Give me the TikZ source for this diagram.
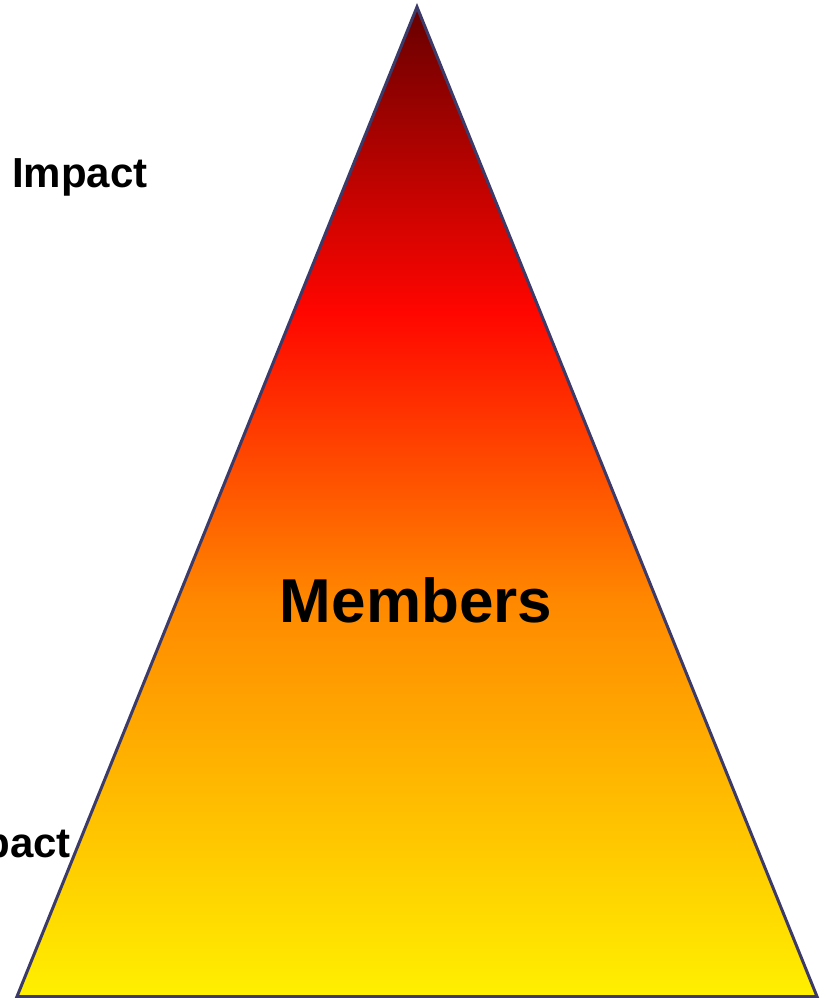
\documentclass[tikz,border=0pt]{standalone}
\usepackage{fontspec}
\setmainfont{Liberation Sans}
\definecolor{pyYellow}{RGB}{255,240,0}
\definecolor{pyOrange}{RGB}{255,136,0}
\definecolor{pyRed}{RGB}{255,5,0}
\definecolor{pyDark}{RGB}{102,0,0}
\definecolor{edgeblue}{RGB}{60,58,105}
\pgfdeclareverticalshading{pyr}{100bp}{
  color(0bp)=(pyYellow);
  color(25bp)=(pyYellow);
  color(45bp)=(pyOrange);
  color(59.7bp)=(pyRed);
  color(75bp)=(pyDark);
  color(100bp)=(pyDark)}
\tikzset{
  lbl/.style={font=\bfseries\fontsize{42}{48}\selectfont, inner sep=0pt},
  big/.style={font=\bfseries\fontsize{62}{70}\selectfont, inner sep=0pt},
  pyramid/.style={draw=edgeblue, line width=3pt, line join=miter, shading=pyr}
}
\begin{document}
\begin{tikzpicture}[x=1pt,y=-1pt]
\useasboundingbox (0,0) rectangle (825,998);
\clip (0,0) rectangle (825,998);
\coordinate (apex) at (417,7);
\coordinate (bl) at (17,996.5);
\coordinate (br) at (817,996.5);
\path[pyramid] (apex) -- (bl) -- (br) -- cycle;
\node[lbl, anchor=base west] (imp) at (12,187) {Impact};
\node[lbl, anchor=base east] (lowimp) at (71,857) {pact};
\node[big, anchor=base] (mem) at (416,622) {Members};
\end{tikzpicture}
\end{document}
